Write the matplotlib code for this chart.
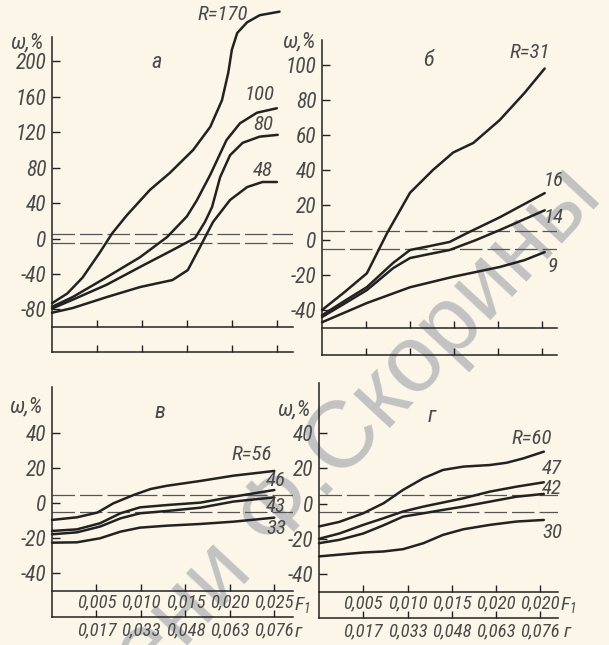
import matplotlib
matplotlib.use('Agg')
import matplotlib.pyplot as plt

plt.rcParams['font.family'] = ['Roboto Condensed', 'DejaVu Sans']
plt.rcParams['font.style'] = 'italic'
plt.rcParams['mathtext.fontset'] = 'custom'
plt.rcParams['mathtext.it'] = 'Roboto Condensed:italic'
plt.rcParams['mathtext.rm'] = 'Roboto Condensed:italic'

W, H = 609, 645
paper = '#fbf6e8'
ink = '#222222'
grey = '#4a4a4a'

# x scale: F1 and mass, г
f1_ticks = [0.005, 0.010, 0.015, 0.020, 0.025]
f1_labels_v = ['0,005', '0,010', '0,015', '0,020', '0,025']
f1_labels_g = ['0,005', '0,010', '0,015', '0,020', '0,020']
mass_labels = ['0,017', '0,033', '0,048', '0,063', '0,076']

# panel а
a170_f1 = [0, .0017, .0034, .0053, .0067, .0083, .0109, .0131, .0157, .0176, .0189, .0196, .0200, .0206, .0217, .0231, .0253]
a170_w = [-73, -62, -44, -16, 6, 26, 55, 74, 100, 126, 156, 187, 213, 232, 244, 252, 256]
a100_f1 = [0, .0023, .0061, .0098, .0128, .0150, .0161, .0176, .0194, .0209, .0228, .0250]
a100_w = [-77, -66, -43.5, -21, 1.7, 25, 43, 72, 111, 130, 142, 147]
a80_f1 = [0, .0023, .0061, .0098, .0134, .0159, .0170, .0178, .0187, .0198, .0212, .0231, .0251]
a80_w = [-79, -69, -52, -32, -13, 0.5, 18.6, 35.6, 69.4, 94, 108, 115, 117]
a48_f1 = [0, .0023, .0061, .0098, .0134, .0151, .0164, .0179, .0198, .0217, .0234, .0250]
a48_w = [-83.7, -78.4, -66, -54.7, -46.8, -35.6, -10.7, 18.6, 43.5, 58.1, 63.8, 63.8]

# panel б
b31_f1 = [0, .0025, .0051, .0074, .0100, .0126, .0149, .0172, .0202, .0230, .0253]
b31_w = [-40, -30, -19, 4, 27, 40, 50, 55.5, 68.6, 84, 98]
b16_f1 = [0, .0025, .0051, .0081, .0100, .0122, .0145, .0165, .0202, .0253]
b16_w = [-43, -35, -26.9, -13, -5.7, -3.5, -1.1, 4, 13, 26.8]
b14_f1 = [0, .0025, .0051, .0081, .0100, .0122, .0145, .0175, .0202, .0253]
b14_w = [-44, -36.5, -28.6, -16, -10.3, -8, -5.7, 0, 5.7, 17]
b9_f1 = [0, .0051, .0100, .0149, .0202, .0230, .0253]
b9_w = [-47, -36, -27, -21, -15.4, -11.5, -6.9]

# panel в
v_f1 = [0, .0028, .0054, .0077, .0099, .0129, .0167, .0204, .0250]
v56_f1 = [0, .0028, .0051, .0069, .0092, .0111, .0129, .0167, .0204, .0250]
v56_w = [-9.5, -8, -5.3, 0, 4.8, 8.2, 10, 12.8, 15.8, 18.5]
v46_w = [-15.8, -14.9, -11.4, -5.7, -2.3, -1, 0.4, 3.8, 7.6]
v43_w = [-17.7, -16.6, -13.3, -8.6, -5.7, -4.4, -2.5, 1, 3.4]
v33_w = [-22.5, -22.3, -20, -16.2, -13.9, -12.8, -11.8, -10.5, -8.2]

# panel г
g60_f1 = [0, .0023, .0050, .0073, .0095, .0118, .0140, .0163, .0193, .0212, .0231, .0254]
g60_w = [-13, -10.4, -5.5, 0.2, 7.8, 14.4, 19.1, 21, 21.9, 23.2, 25.7, 29.5]
g_f1 = [0, .0023, .0050, .0073, .0095, .0118, .0140, .0163, .0193, .0223, .0254]
g47_w = [-20, -17, -12.1, -8.3, -4.5, -1.7, 0.6, 3, 6.8, 9.6, 12.1]
g42_w = [-22.5, -20.6, -17, -12.3, -7.4, -5.5, -3.6, -1.7, 1.1, 3.9, 5.5]
g30_w = [-30, -29, -27.8, -27.2, -25.9, -22.5, -17.8, -14.6, -12.1, -10.2, -9.3]

fig = plt.figure(figsize=(W / 100, H / 100), dpi=100, facecolor=paper)

# watermark of the scan
fig.text(318 / W, 1 - 470 / H, 'имени Ф.Скорины', rotation=47, rotation_mode='anchor',
         ha='center', va='center', fontsize=68, color='#c2c2c2', style='normal',
         family='Liberation Sans', zorder=-5)


def panel(box, xmax, ylim, yticks, line_y, curves, top_labels=None, bottom_labels=None):
    l, r, t, b = box
    ax = fig.add_axes([l / W, 1 - b / H, (r - l) / W, (b - t) / H])
    ax.patch.set_visible(False)
    ax.set_xlim(0, xmax)
    ax.set_ylim(*ylim)
    ax.spines[['top', 'right']].set_visible(False)
    for s in ['left', 'bottom']:
        ax.spines[s].set_color(ink)
        ax.spines[s].set_linewidth(1.1)
    ax.set_yticks(yticks)
    ax.set_yticklabels([str(v) for v in yticks])
    ax.tick_params(axis='y', direction='in', length=6, width=1, pad=4,
                   labelsize=15.5, color=ink, labelcolor=grey)
    ax.set_xticks(f1_ticks)
    ax.set_xticklabels(bottom_labels if bottom_labels else [])
    ax.tick_params(axis='x', direction='in', length=5, width=1, pad=3,
                   labelsize=13.5, color=ink, labelcolor=grey)
    frac = (line_y - ylim[0]) / (ylim[1] - ylim[0])
    sec = ax.secondary_xaxis(frac)
    sec.set_xticks(f1_ticks)
    sec.set_xticklabels(top_labels if top_labels else [])
    sec.spines['bottom'].set_color(ink)
    sec.spines['bottom'].set_linewidth(1.1)
    sec.spines['top'].set_visible(False)
    sec.tick_params(axis='x', direction='in', length=5, width=1, pad=2,
                    labelsize=13.5, color=ink, labelcolor=grey)
    for yd in (5, -5):
        ax.axhline(yd, color='#555555', lw=0.9, ls=(0, (18, 4)))
    for f1, w in curves:
        ax.plot(f1, w, color=ink, lw=1.8, clip_on=False,
                solid_capstyle='round', solid_joinstyle='round')
    return ax


panel((52, 293, 37, 352), 0.0268, (-128, 227.4), list(range(-80, 201, 40)), -100,
      [(a170_f1, a170_w), (a100_f1, a100_w), (a80_f1, a80_w), (a48_f1, a48_w)])
panel((322, 557, 40, 355), 0.0267, (-65.7, 114.3), list(range(-40, 101, 20)), -50,
      [(b31_f1, b31_w), (b16_f1, b16_w), (b14_f1, b14_w), (b9_f1, b9_w)])
panel((52, 293, 387, 617), 0.0271, (-65, 66.5), list(range(-40, 41, 20)), -50,
      [(v56_f1, v56_w), (v_f1, v46_w), (v_f1, v43_w), (v_f1, v33_w)],
      top_labels=f1_labels_v, bottom_labels=mass_labels)
panel((319, 558, 383, 618), 0.0270, (-65, 68.5), list(range(-40, 41, 20)), -50,
      [(g60_f1, g60_w), (g_f1, g47_w), (g_f1, g42_w), (g_f1, g30_w)],
      top_labels=f1_labels_g, bottom_labels=mass_labels)


def ftext(x, y, s, size=13, **kw):
    fig.text(x / W, 1 - y / H, s, ha='center', va='center', fontsize=size, color=grey, **kw)


# axis names and panel letters
for x, y in [(28, 43), (300, 42), (27, 407), (295, 410)]:
    ftext(x, y, 'ω,%', size=16)
for x, y, s in [(157, 62, 'а'), (428, 60, 'б'), (160, 413, 'в'), (432, 417, 'г')]:
    ftext(x, y, s, size=16)
for x, y in [(302, 605), (568, 605)]:
    ftext(x, y, '$F_1$', size=14)
for x, y in [(298, 632), (567, 632)]:
    ftext(x, y, 'г', size=14)

# curve labels
for x, y, s in [(223, 15, 'R=170'), (260, 95, '100'), (263, 125, '80'), (263, 170, '48'),
                (530, 52, 'R=31'), (554, 180, '16'), (554, 217, '14'), (552, 267, '9'),
                (252, 455, 'R=56'), (276, 480, '46'), (276, 507, '43'), (276, 528, '33'),
                (532, 438, 'R=60'), (552, 468, '47'), (552, 488, '42'), (552, 533, '30')]:
    ftext(x, y, s, size=15)

fig.savefig('out.png', dpi=100, facecolor=paper)
